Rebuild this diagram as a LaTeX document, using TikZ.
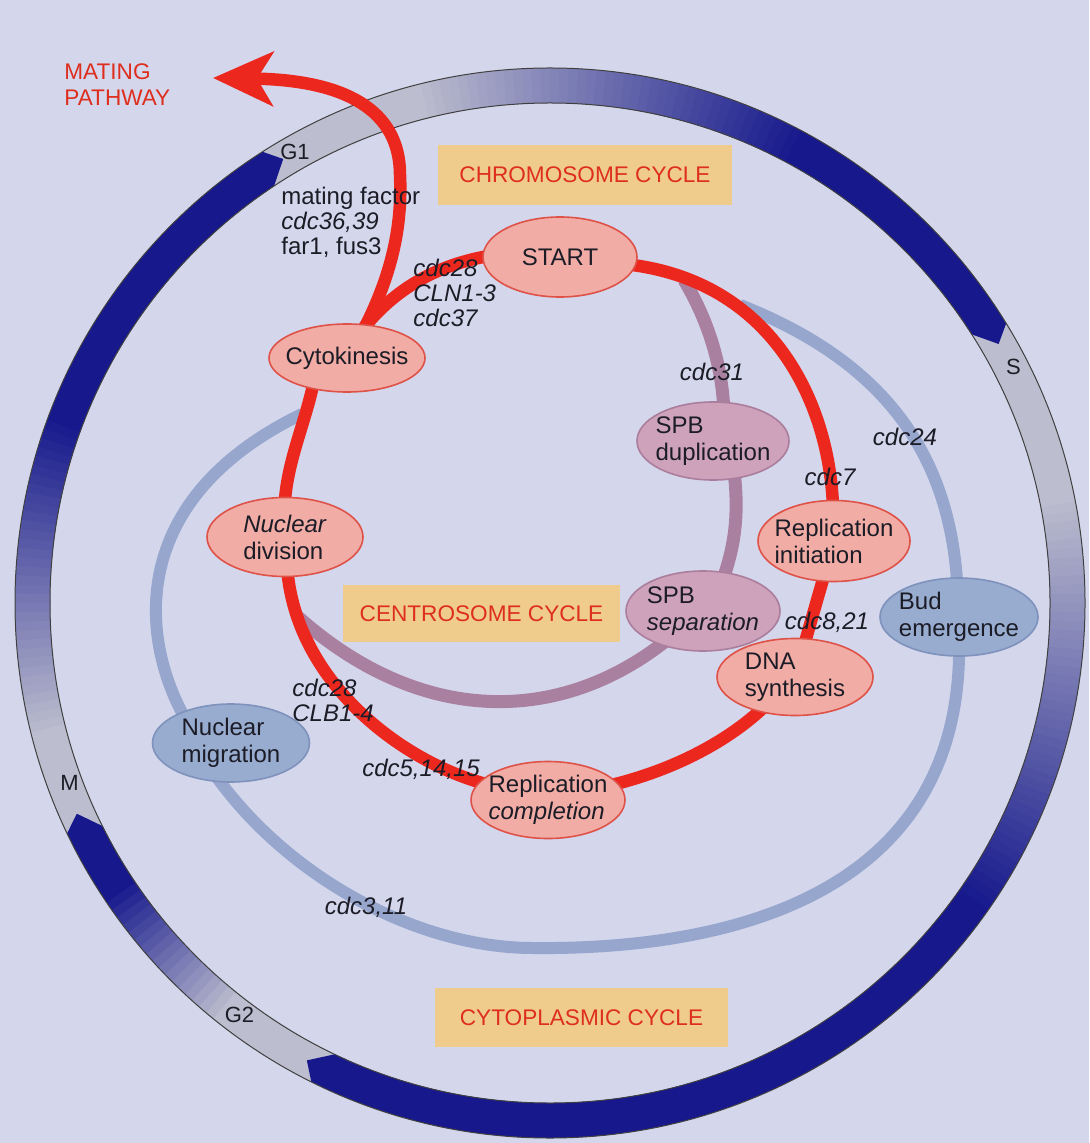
\documentclass[tikz,border=0pt]{standalone}
\usepackage{fontspec}
\setmainfont{Liberation Sans}
\usepackage{xcolor}
\usepackage{tikz}
\usetikzlibrary{arrows.meta, shapes.geometric}

\definecolor{paper}{RGB}{212,214,236}
\definecolor{ink}{RGB}{28,28,38}
\definecolor{ringgrey}{RGB}{188,189,206}
\definecolor{ringblue}{RGB}{22,24,140}
\definecolor{chromored}{RGB}{236,40,30}
\definecolor{chromofill}{RGB}{241,172,166}
\definecolor{chromoedge}{RGB}{222,82,72}
\definecolor{centromauve}{RGB}{170,128,160}
\definecolor{centrofill}{RGB}{206,162,186}
\definecolor{centroedge}{RGB}{170,126,156}
\definecolor{cytoblue}{RGB}{150,166,205}
\definecolor{cytofill}{RGB}{152,172,208}
\definecolor{cytoedge}{RGB}{126,146,188}
\definecolor{titlefill}{RGB}{240,204,140}
\definecolor{titlered}{RGB}{222,46,30}

\pgfdeclarelayer{bg}
\pgfdeclarelayer{links}
\pgfsetlayers{bg,links,main}

\newcommand{\cellfont}{\fontsize{12}{13.5}\selectfont}
\newcommand{\genefont}{\fontsize{12}{12.5}\selectfont\itshape}
\newcommand{\cyclefont}{\fontsize{11.3}{13}\selectfont}
\newcommand{\phasefont}{\fontsize{11}{13}\selectfont}

\newcommand{\phasearrow}[4]{%
  \pgfmathtruncatemacro{\bodyend}{#2-4}%
  \foreach \a in {#1,...,\bodyend}{%
    \pgfmathsetmacro{\mix}{max(0,min(100,(\a-(#3))*100/((#4)-(#3))))}%
    \fill[ringblue!\mix!ringgrey] (\a:\ringin) -- (\a:\ringout) -- (\a+1.5:\ringout) -- (\a+1.5:\ringin) -- cycle;
  }%
  \fill[ringblue] (#2-4:\ringin) -- (#2-4:\ringout) -- (#2-1.5:\ringout) -- (#2:\ringmid) -- (#2-2.5:\ringin) -- cycle;
}

\begin{document}
\begin{tikzpicture}[x=0.5pt, y=-0.5pt,
  cell/.style={ellipse, inner sep=-6pt, align=left, text=ink, font=\cellfont, line width=0.8pt},
  chromonode/.style={cell, draw=chromoedge, fill=chromofill},
  centronode/.style={cell, draw=centroedge, fill=centrofill},
  cytonode/.style={cell, draw=cytoedge, fill=cytofill},
  cycletitle/.style={rectangle, inner sep=0pt, fill=titlefill, text=titlered, font=\cyclefont},
  gene/.style={inner sep=0pt, align=left, text=ink, font=\genefont},
  phase/.style={inner sep=0pt, text=ink, font=\phasefont},
  wire/.style={line cap=butt, shorten <=-5pt, shorten >=-5pt},
  chromoline/.style={wire, draw=chromored, line width=6.25pt},
  centroline/.style={wire, draw=centromauve, line width=6.5pt},
  cytoline/.style={wire, draw=cytoblue, line width=6pt}
]
\useasboundingbox (0,0) rectangle (1089,1143);

\begin{pgfonlayer}{bg}
  \fill[paper] (0,0) rectangle (1089,1143);
  \begin{scope}[shift={(550,603)}]
    \def\ringout{535}
    \def\ringin{500}
    \def\ringmid{518}
    \fill[ringgrey, even odd rule] (0,0) circle[radius=\ringout] (0,0) circle[radius=\ringin];
    \phasearrow{-121}{-30}{-105}{-62}
    \phasearrow{-30}{118}{-12}{35}
    \phasearrow{118}{156}{128}{146}
    \phasearrow{156}{239}{165}{200}
    \draw[black!75, line width=0.5pt] (0,0) circle[radius=\ringout] (0,0) circle[radius=\ringin];
    \node[phase] (g1) at (-119.5:518) {G1};
    \node[phase] (sphase) at (-27:520) {S};
    \node[phase] (g2) at (127:516) {G2};
    \node[phase] (mphase) at (159.5:513) {M};
  \end{scope}
\end{pgfonlayer}

\node[chromonode, minimum width=77pt, minimum height=40pt] (start) at (560,257) {START};
\node[chromonode, minimum width=78pt, minimum height=34pt] (cytokin) at (347,358) {Cytokinesis};
\node[chromonode, minimum width=78pt, minimum height=39.5pt] (nucdiv) at (285,537) {\textit{Nuclear}\\division};
\node[chromonode, minimum width=76pt, minimum height=40.5pt] (repinit) at (834,541) {Replication\\initiation};
\node[chromonode, minimum width=77pt, minimum height=38.5pt] (repcomp) at (548,800) {Replication\\\textit{completion}};
\node[centronode, minimum width=76pt, minimum height=39pt] (spbdup) at (713,441) {SPB\\duplication};
\node[centronode, minimum width=77pt, minimum height=40pt] (spbsep) at (703,611) {SPB\\\textit{separation}};
\node[chromonode, minimum width=78pt, minimum height=38.5pt] (dna) at (795,677) {DNA\\synthesis};
\node[cytonode, minimum width=79pt, minimum height=39pt] (budemer) at (959,617) {Bud\\emergence};
\node[cytonode, minimum width=78.5pt, minimum height=39pt] (nucmig) at (231,743) {Nuclear\\migration};

\node[cycletitle, minimum width=147pt, minimum height=30pt] (chromotitle) at (585,175) {CHROMOSOME CYCLE};
\node[cycletitle, minimum width=138.5pt, minimum height=28.5pt] (centrotitle) at (481.5,613.5) {CENTROSOME CYCLE};
\node[cycletitle, minimum width=146.5pt, minimum height=29.5pt] (cytotitle) at (581.5,1017.5) {CYTOPLASMIC CYCLE};
\node[gene, anchor=west, font=\cyclefont, text=titlered] (matingtext) at (64,85) {MATING\\PATHWAY};

\node[gene, anchor=west] (matinglab) at (281,222) {\textup{mating factor}\\cdc36,39\\\textup{far1, fus3}};
\node[gene, anchor=west] (clnlab) at (413,293) {cdc28\\CLN1-3\\cdc37};
\node[gene] (cdc31) at (712,372) {cdc31};
\node[gene] (cdc24) at (905,437) {cdc24};
\node[gene] (cdc7) at (830,477) {cdc7};
\node[gene] (cdc821) at (827,622) {cdc8,21};
\node[gene, anchor=west] (clblab) at (292,700) {cdc28\\CLB1-4};
\node[gene] (cdc51415) at (421,769) {cdc5,14,15};
\node[gene] (cdc311) at (366,907) {cdc3,11};

\coordinate (spbfork) at (684,280);
\coordinate (spbjoin) at (297,616);
\coordinate (budfork) at (740,305);
\coordinate (cytobottom) at (533,948);
\coordinate (migjoin) at (302,414);
\coordinate (matingbend) at (400,175);
\coordinate (matingtip) at (213,78);

\begin{pgfonlayer}{links}
  \draw[centroline, shorten <=0pt] (spbfork) .. controls (705,315) and (722,360) .. (spbdup.75);
  \draw[centroline] (spbdup.-60) .. controls (740,520) and (733,550) .. (spbsep.60);
  \draw[centroline, shorten >=0pt] (spbsep) .. controls (560,726) and (420,726) .. (spbjoin);
  \draw[cytoline, shorten <=0pt] (budfork) .. controls (880,360) and (950,450) .. (budemer);
  \draw[cytoline] (budemer) .. controls (960,900) and (720,950) .. (cytobottom)
    .. controls (420,948) and (290,880) .. (nucmig.-105);
  \draw[cytoline, shorten >=0pt] (nucmig.148) .. controls (140,640) and (125,500) .. (migjoin);
  \draw[chromoline] (start) .. controls (770,280) and (830,400) .. (repinit);
  \draw[chromoline] (repinit) -- (dna);
  \draw[chromoline] (dna) .. controls (730,740) and (675,770) .. (repcomp);
  \draw[chromoline] (repcomp) .. controls (400,762) and (295,680) .. (nucdiv);
  \draw[chromoline] (nucdiv.north) .. controls (287,460) and (305,425) .. (cytokin.-138);
  \draw[chromoline] (cytokin.60) .. controls (385,300) and (425,266) .. (start.west);
  \draw[chromoline, shorten >=0pt, -{Stealth[length=30pt, width=27pt, inset=8pt]}] (cytokin.60)
    .. controls (395,270) and (402,220) .. (matingbend)
    .. controls (400,110) and (345,80) .. (matingtip);
\end{pgfonlayer}
\end{tikzpicture}
\end{document}
